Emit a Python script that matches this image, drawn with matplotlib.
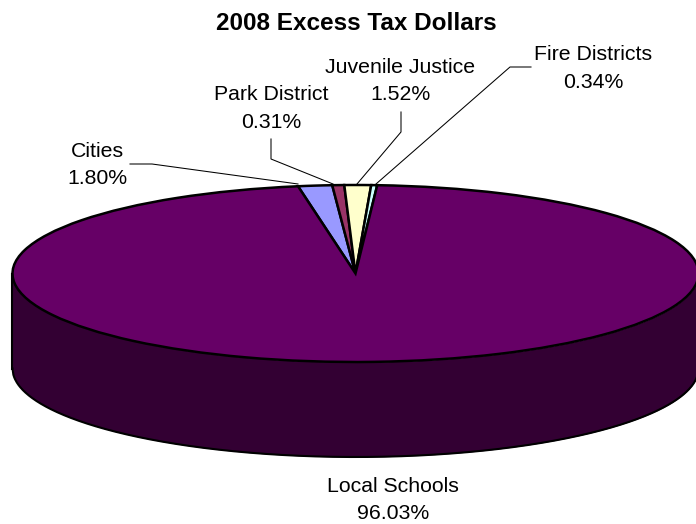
import numpy as np
import matplotlib
matplotlib.use('Agg')
import matplotlib.pyplot as plt

plt.rcParams['font.family'] = ['Liberation Sans', 'DejaVu Sans']

categories = ['Cities', 'Park District', 'Juvenile Justice', 'Fire Districts', 'Local Schools']
label_pcts = ['1.80%', '0.31%', '1.52%', '0.34%', '96.03%']
# slice sizes as they look in the picture (not quite the printed percents)
shares = [1.6, 0.56, 1.25, 0.28, 96.31]
colors = ['#9999FF', '#993366', '#FFFFCC', '#CCFFFF', '#660066']
wall_color = '#330033'

W, H = 696, 524
cx, cy, rx, ry = 355.5, 273.5, 343, 88.5
depth = 95 / ry

fig = plt.figure(figsize=(W / 100, H / 100), dpi=100)

# pie axes: limits squash the unit circle into the tilted ellipse
ax = fig.add_axes([0, 0, 1, 1])
xs = np.linspace(-1, 1, 800)
front = -np.sqrt(1 - xs ** 2)
ax.fill_between(xs, front - depth, front, color=wall_color, lw=0, zorder=1)
ax.plot(xs, front - depth, color='black', lw=1.5, zorder=2)
ax.plot([-1, -1], [0, -depth], color='black', lw=1.5, zorder=2)
ax.plot([1, 1], [0, -depth], color='black', lw=1.5, zorder=2)
ax.pie(shares, colors=colors, startangle=99.65, counterclock=False,
       wedgeprops={'edgecolor': 'black', 'linewidth': 1.8, 'zorder': 3})
ax.set_aspect('auto')
ax.set_xlim(-cx / rx, (W - cx) / rx)
ax.set_ylim((cy - H) / ry, cy / ry)
ax.axis('off')

# overlay in pixel coordinates for text and leader lines
top = fig.add_axes([0, 0, 1, 1])
top.set_xlim(0, W)
top.set_ylim(H, 0)
top.axis('off')
top.patch.set_alpha(0)

top.text(356.5, 24, '2008 Excess Tax Dollars', fontsize=17.5, fontweight='bold',
         ha='center', va='center')

label_pos = [(97, 165), (271.5, 108.5), (400, 81), (593, 68.5), (393, 500)]
for name, pct, (x, y) in zip(categories, label_pcts, label_pos):
    top.text(x, y, name + '\n' + pct, fontsize=15.3, ha='center', va='center',
             linespacing=1.54)

leaders = [
    ([130, 152, 298], [164, 164, 184]),
    ([271, 271, 333], [139, 159, 184]),
    ([401, 401, 357], [112, 132, 184]),
    ([531, 510, 376], [67, 67, 184]),
]
for lx, ly in leaders:
    top.plot(lx, ly, color='black', lw=0.75)

fig.savefig('out.png', dpi=100)
